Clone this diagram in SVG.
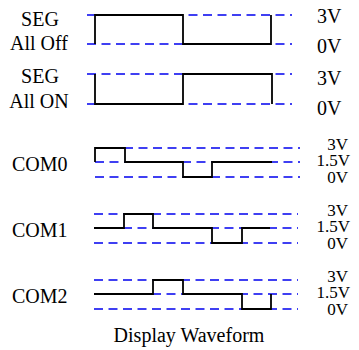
<svg xmlns="http://www.w3.org/2000/svg" width="359" height="350" viewBox="0 0 359 350">
<style>
text{font-family:'Liberation Serif','Times New Roman',Times,serif;fill:#000}
.lbl{font-size:20px}
.v{font-size:20px}
.vs{font-size:17px;text-anchor:end}
.d{stroke:#0000ee;stroke-width:1.6;stroke-dasharray:9,5.5;fill:none}
.w{stroke:#000;stroke-width:1.8;fill:none;stroke-linejoin:miter}
</style>
<rect width="359" height="350" fill="#fff"/>
<g font-family="Liberation Serif, serif">
<g id="seg-off">
<text class="lbl" x="40" y="26" text-anchor="middle">SEG</text>
<text class="lbl" x="39" y="50" text-anchor="middle">All Off</text>
<line class="d" x1="87" y1="15" x2="292" y2="15"/>
<line class="d" x1="87" y1="44" x2="292" y2="44"/>
<polyline class="w" points="95,44 95,15 183,15 183,44 271,44 271,15"/>
<text class="v" x="317" y="23">3V</text>
<text class="v" x="317" y="53">0V</text>
</g>
<g id="seg-on">
<text class="lbl" x="40" y="83" text-anchor="middle">SEG</text>
<text class="lbl" x="39" y="108" text-anchor="middle">All ON</text>
<line class="d" x1="87" y1="74" x2="292" y2="74"/>
<line class="d" x1="87" y1="104" x2="292" y2="104"/>
<polyline class="w" points="95,74 95,104 183,104 183,74 272,74 272,104"/>
<text class="v" x="317" y="85">3V</text>
<text class="v" x="317" y="115">0V</text>
</g>
<g id="com0">
<text class="lbl" x="12" y="171">COM0</text>
<line class="d" x1="95" y1="148" x2="300" y2="148"/>
<line class="d" x1="95" y1="162" x2="300" y2="162"/>
<line class="d" x1="95" y1="177" x2="300" y2="177"/>
<polyline class="w" points="95,162 95,148 125,148 125,162 183,162 183,177 212,177 212,162 272,162"/>
<text class="vs" x="348" y="150">3V</text>
<text class="vs" x="350" y="166">1.5V</text>
<text class="vs" x="348" y="183">0V</text>
</g>
<g id="com1">
<text class="lbl" x="12" y="237">COM1</text>
<line class="d" x1="94" y1="214" x2="298" y2="214"/>
<line class="d" x1="94" y1="228" x2="298" y2="228"/>
<line class="d" x1="94" y1="243" x2="298" y2="243"/>
<polyline class="w" points="94,228 124,228 124,214 153,214 153,228 212,228 212,243 242,243 242,228 270,228"/>
<text class="vs" x="348" y="216">3V</text>
<text class="vs" x="350" y="232">1.5V</text>
<text class="vs" x="348" y="249">0V</text>
</g>
<g id="com2">
<text class="lbl" x="12" y="303">COM2</text>
<line class="d" x1="94" y1="280" x2="298" y2="280"/>
<line class="d" x1="94" y1="294" x2="298" y2="294"/>
<line class="d" x1="94" y1="309" x2="298" y2="309"/>
<polyline class="w" points="94,294 153,294 153,280 183,280 183,294 242,294 242,309 271,309 271,294"/>
<text class="vs" x="348" y="282">3V</text>
<text class="vs" x="350" y="298">1.5V</text>
<text class="vs" x="348" y="315">0V</text>
</g>
<g id="title">
<text class="lbl" x="189" y="342" text-anchor="middle">Display Waveform</text>
</g>
</g>
</svg>
